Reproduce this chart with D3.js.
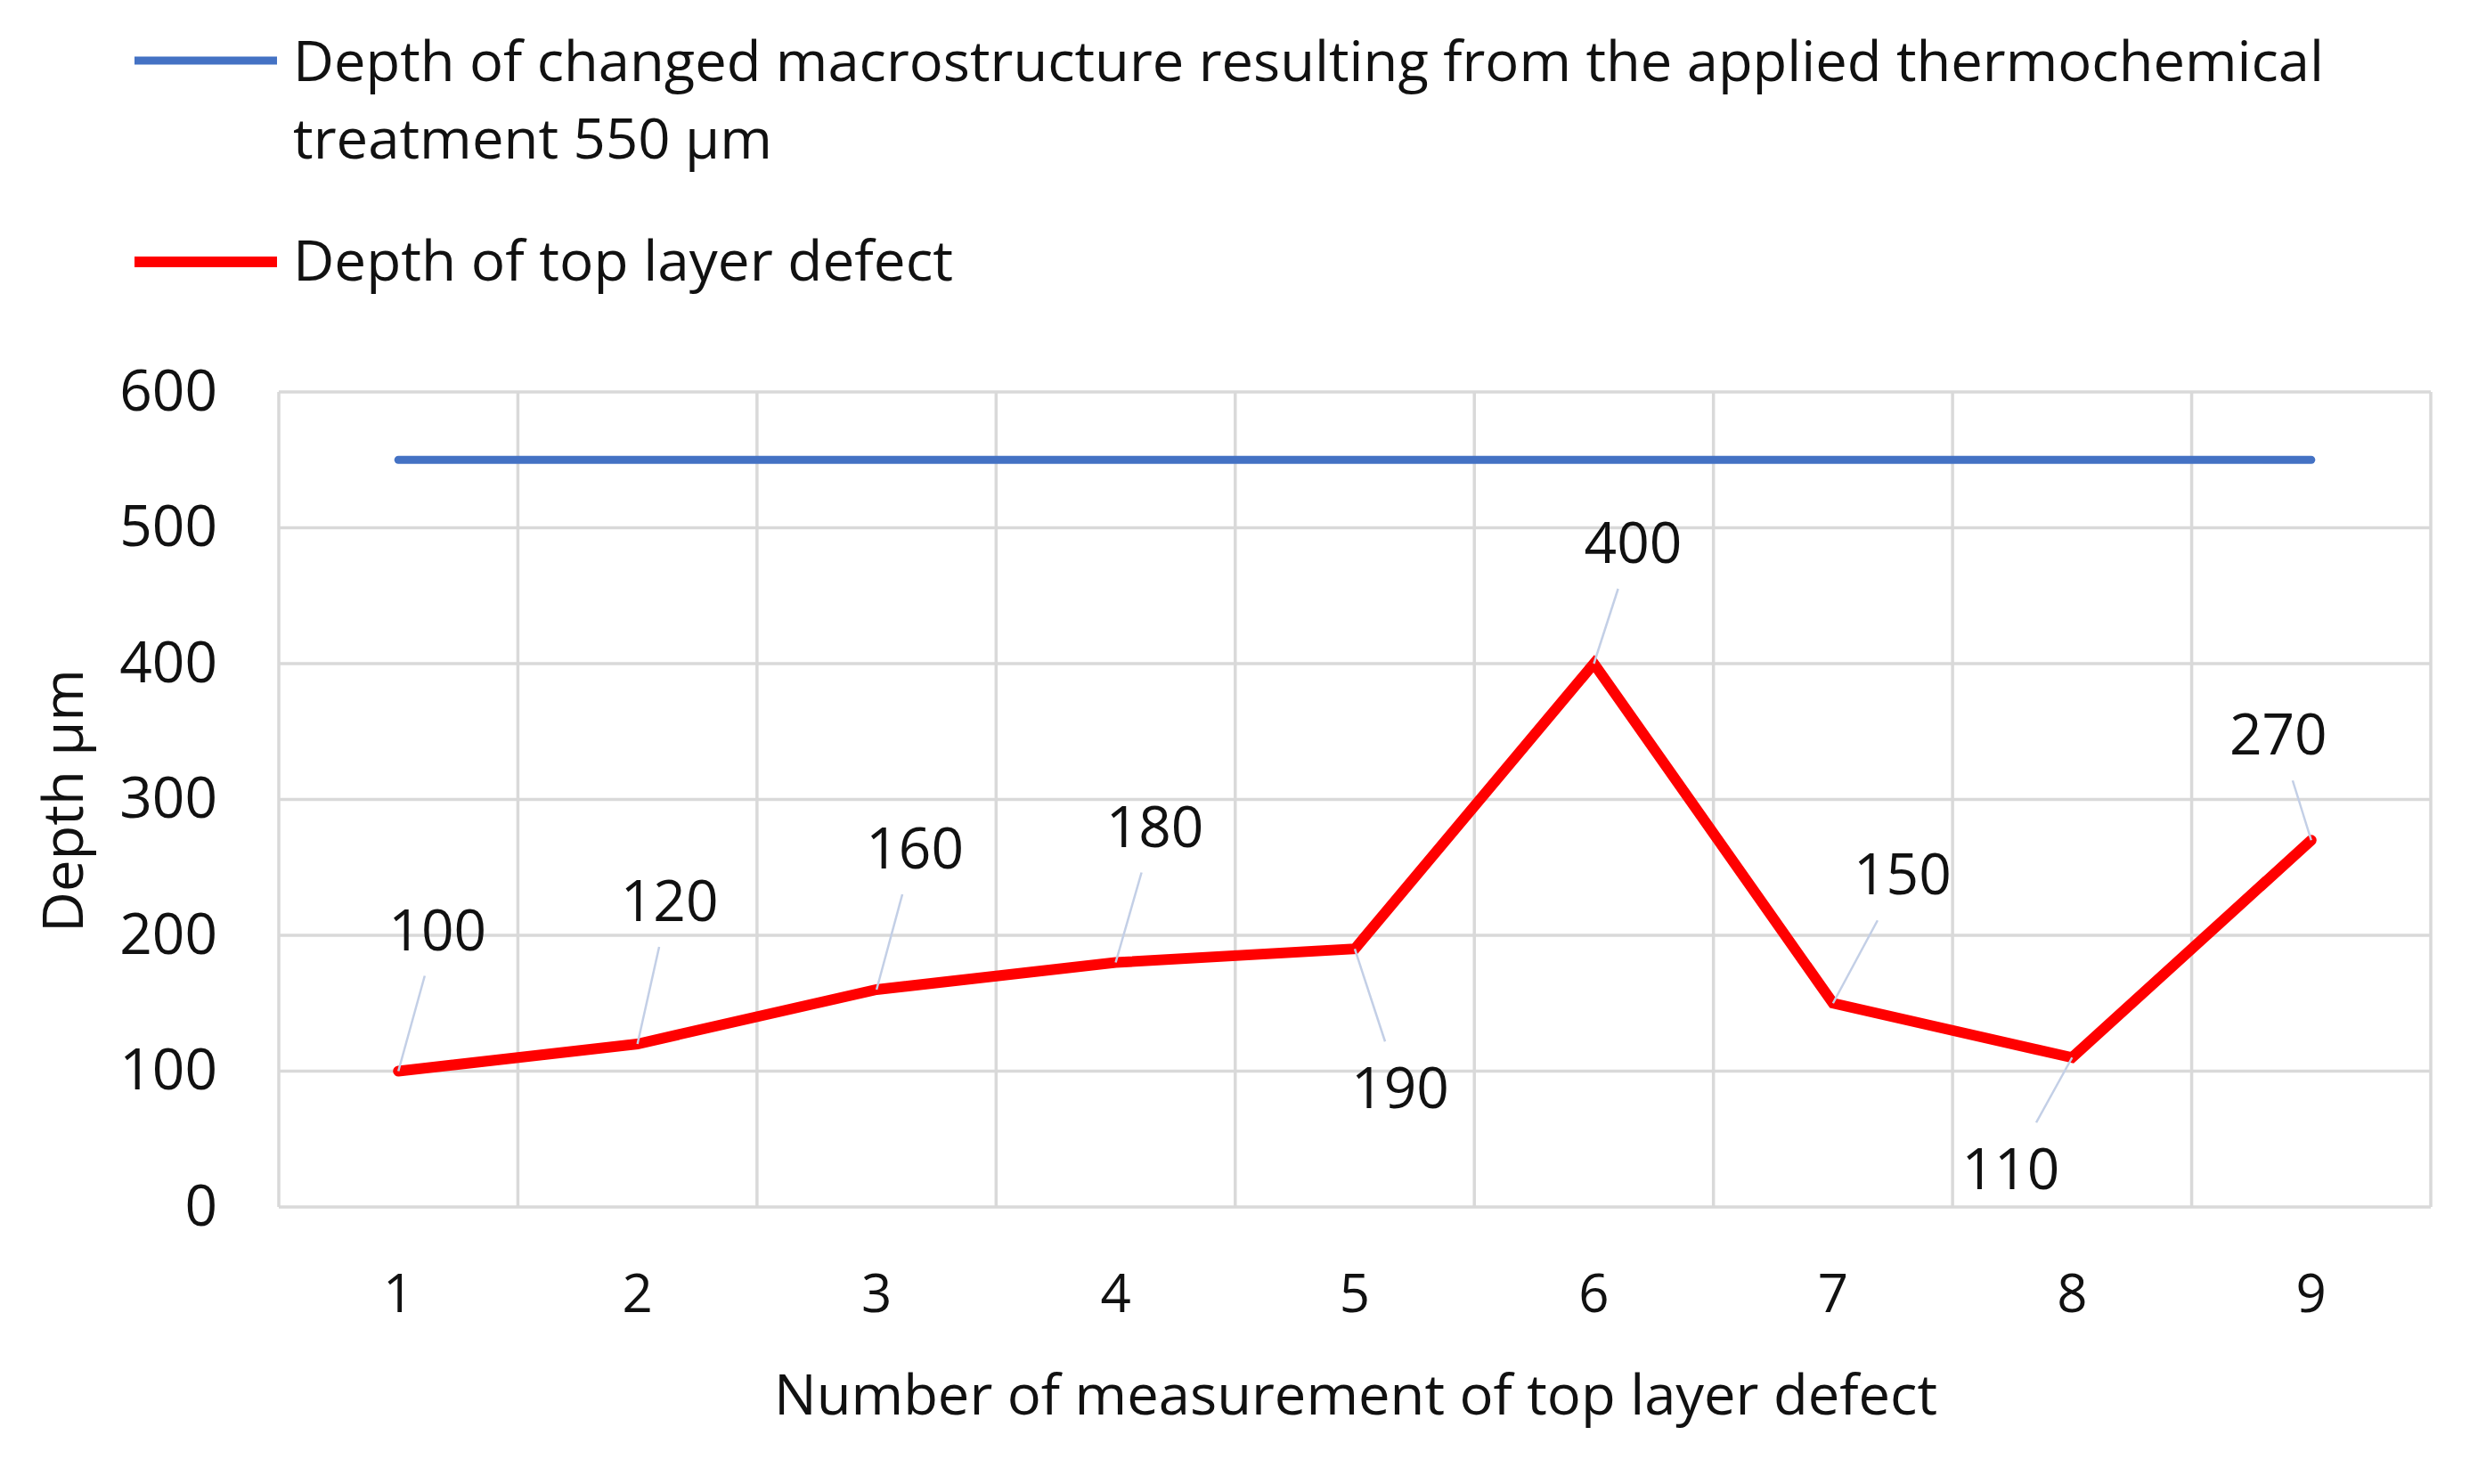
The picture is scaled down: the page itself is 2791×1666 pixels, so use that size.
<!DOCTYPE html>
<html>
<head>
<meta charset="utf-8">
<script src="https://cdn.jsdelivr.net/npm/d3@7"></script>
<style>
  html, body { margin: 0; padding: 0; background: #ffffff; }
  svg { display: block; font-family: "Open Sans", "Noto Sans", sans-serif; }
</style>
</head>
<body>
<svg id="chart" width="2791" height="1666"></svg>
<script>
// ---- data ----
const categories = ["1", "2", "3", "4", "5", "6", "7", "8", "9"];
const defectDepth = [100, 120, 160, 180, 190, 400, 150, 110, 270];
const macroDepth = [550, 550, 550, 550, 550, 550, 550, 550, 550];
const yTicks = [0, 100, 200, 300, 400, 500, 600];
const seriesNames = [
  ["Depth of changed macrostructure resulting from the applied thermochemical", "treatment 550 µm"],
  ["Depth of top layer defect"]
];
const xTitle = "Number of measurement of top layer defect";
const yTitle = "Depth µm";

// ---- layout (label placement, px) ----
const labelOffsets = [[44,-159],[36,-161],[43,-159],[44,-153],[51,156],[44,-136],[78,-145],[-69,125],[-37,-119]];

const W = 2791, H = 1666;
const plot = { left: 313, right: 2729, top: 440, bottom: 1355 };
const gridColor = "#d9d9d9";
const textColor = "#111111";

const svg = d3.select("#chart");
svg.append("rect").attr("width", W).attr("height", H).attr("fill", "#fff");

const x = d3.scaleBand().domain(categories).range([plot.left, plot.right]).padding(0);
const y = d3.scaleLinear().domain([0, 600]).range([plot.bottom, plot.top]);
const cx = c => x(c) + x.bandwidth() / 2;

// grid
const grid = svg.append("g");
grid.selectAll("line.h").data(yTicks).join("line")
  .attr("x1", plot.left).attr("x2", plot.right)
  .attr("y1", d => y(d)).attr("y2", d => y(d))
  .attr("stroke", gridColor).attr("stroke-width", 3.5);
const vEdges = categories.map(c => x(c)).concat([plot.right]);
grid.selectAll("line.v").data(vEdges).join("line")
  .attr("x1", d => d).attr("x2", d => d)
  .attr("y1", plot.top).attr("y2", plot.bottom)
  .attr("stroke", gridColor).attr("stroke-width", 3.5);

// y axis
const yAxis = svg.append("g").attr("transform", `translate(${plot.left},0)`)
  .call(d3.axisLeft(y).tickValues(yTicks).tickSize(0).tickPadding(69));
yAxis.select(".domain").remove();
yAxis.selectAll("text").attr("font-size", 64).attr("fill", textColor)
  .attr("font-family", "Open Sans");

// x axis
const xAxis = svg.append("g").attr("transform", `translate(0,${plot.bottom})`)
  .call(d3.axisBottom(x).tickSize(0).tickPadding(75));
xAxis.select(".domain").remove();
xAxis.selectAll("text").attr("font-size", 60).attr("fill", textColor)
  .attr("font-family", "Open Sans");

// axis titles
svg.append("text").attr("x", 1522).attr("y", 1588)
  .attr("text-anchor", "middle").attr("font-size", 62).attr("fill", textColor)
  .attr("textLength", 1306).attr("lengthAdjust", "spacingAndGlyphs")
  .text(xTitle);
svg.append("text").attr("transform", "translate(93,899) rotate(-90)")
  .attr("text-anchor", "middle").attr("font-size", 62).attr("fill", textColor)
  .attr("textLength", 296).attr("lengthAdjust", "spacingAndGlyphs")
  .text(yTitle);

// lines
const line = d3.line().x((d, i) => cx(categories[i])).y(d => y(d));
svg.append("path").datum(macroDepth).attr("d", line)
  .attr("fill", "none").attr("stroke", "#4472c4").attr("stroke-width", 9)
  .attr("stroke-linecap", "round").attr("stroke-linejoin", "round");

// leader lines & labels
const labelFont = 64;
const lab = svg.append("g");
defectDepth.forEach((v, i) => {
  const px = cx(categories[i]), py = y(v);
  const lx = px + labelOffsets[i][0], ly = py + labelOffsets[i][1];
  const txt = lab.append("text").attr("x", lx).attr("y", ly).attr("dy", "0.36em")
    .attr("text-anchor", "middle").attr("font-size", labelFont).attr("fill", textColor)
    .text(v);
  const hw = txt.node().getComputedTextLength() / 2 + 6;
  const hh = 52;
  const dx = lx - px, dy = ly - py;
  const t = Math.min(hw / Math.abs(dx || 1e-6), hh / Math.abs(dy || 1e-6));
  lab.insert("line", "text").attr("x1", px).attr("y1", py)
    .attr("x2", lx - t * dx).attr("y2", ly - t * dy)
    .attr("stroke", "#c3cfe6").attr("stroke-width", 2.5);
});

svg.append("path").datum(defectDepth).attr("d", line)
  .attr("fill", "none").attr("stroke", "#ff0000").attr("stroke-width", 12)
  .attr("stroke-linecap", "round").attr("stroke-linejoin", "miter");
svg.node().appendChild(lab.node());

// legend
const legend = svg.append("g");
const legColors = ["#4472c4", "#ff0000"];
const legLineY = [68, 294];
const legBase = [[91, 178], [315]];
const legWidths = [[2280, 538], [741]];
seriesNames.forEach((lines, k) => {
  legend.append("line").attr("x1", 151).attr("x2", 311)
    .attr("y1", legLineY[k]).attr("y2", legLineY[k])
    .attr("stroke", legColors[k]).attr("stroke-width", k === 0 ? 9 : 12);
  lines.forEach((s, j) => {
    legend.append("text").attr("x", 329).attr("y", legBase[k][j])
      .attr("font-size", 62).attr("fill", textColor)
      .attr("textLength", legWidths[k][j]).attr("lengthAdjust", "spacingAndGlyphs")
      .text(s);
  });
});
</script>
</body>
</html>
